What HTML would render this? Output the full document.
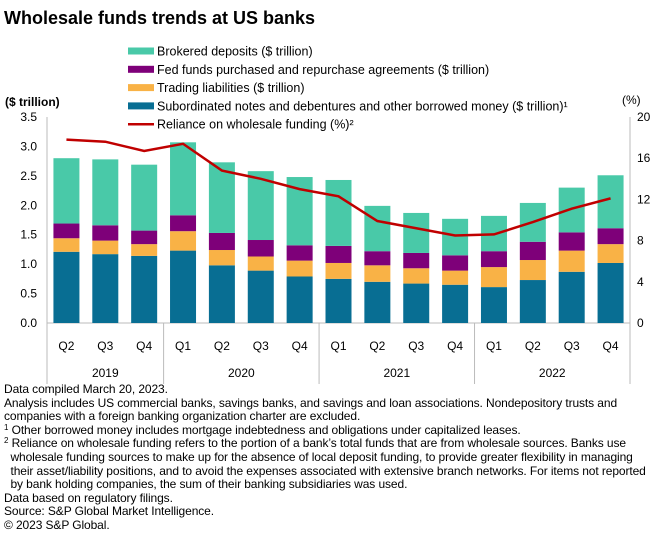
<!DOCTYPE html>
<html><head><meta charset="utf-8"><style>
body{margin:0;background:#fff;font-family:"Liberation Sans",sans-serif;color:#000}
#wrap{position:relative;width:660px;height:540px;overflow:hidden}
.notes{position:absolute;left:4px;top:383px;font-size:12px;line-height:13.6px;letter-spacing:-0.1px;white-space:nowrap}
.notes div{height:13.6px}
.sp{font-size:8px;position:relative;top:-4px}
</style></head><body>
<div id="wrap">
<svg id="chart" width="660" height="385" style="position:absolute;left:0;top:0" font-family="Liberation Sans, sans-serif">
<text x="4" y="24" font-size="18" font-weight="bold">Wholesale funds trends at US banks</text>
<g id="legend"></g>
<text x="5" y="106" font-size="12" font-weight="bold">($ trillion)</text>
<text x="622" y="104" font-size="12">(%)</text>
<g id="plot"></g>
</svg>
<div class="notes">
<div>Data compiled March 20, 2023.</div>
<div>Analysis includes US commercial banks, savings banks, and savings and loan associations. Nondepository trusts and</div>
<div>companies with a foreign banking organization charter are excluded.</div>
<div><span class="sp">1</span> Other borrowed money includes mortgage indebtedness and obligations under capitalized leases.</div>
<div><span class="sp">2</span> Reliance on wholesale funding refers to the portion of a bank’s total funds that are from wholesale sources. Banks use</div>
<div>&nbsp;&nbsp;wholesale funding sources to make up for the absence of local deposit funding, to provide greater flexibility in managing</div>
<div>&nbsp;&nbsp;their asset/liability positions, and to avoid the expenses associated with extensive branch networks. For items not reported</div>
<div>&nbsp;&nbsp;by bank holding companies, the sum of their banking subsidiaries was used.</div>
<div>Data based on regulatory filings.</div>
<div>Source: S&amp;P Global Market Intelligence.</div>
<div>© 2023 S&amp;P Global.</div>
</div>
</div>
<script>
const quarters=["Q2","Q3","Q4","Q1","Q2","Q3","Q4","Q1","Q2","Q3","Q4","Q1","Q2","Q3","Q4"];
const years=["2019","2020","2021","2022"];
const yearCounts=[3,4,4,4];
const subordinated=[1.21,1.17,1.14,1.23,0.98,0.89,0.79,0.75,0.70,0.67,0.65,0.61,0.73,0.87,1.02];
const trading=[0.23,0.23,0.20,0.33,0.26,0.24,0.27,0.27,0.28,0.26,0.24,0.34,0.34,0.36,0.32];
const fedFunds=[0.25,0.26,0.23,0.27,0.29,0.28,0.26,0.29,0.24,0.26,0.26,0.27,0.31,0.31,0.27];
const brokered=[1.11,1.12,1.12,1.24,1.20,1.17,1.16,1.12,0.77,0.68,0.62,0.60,0.66,0.76,0.90];
const reliance=[17.8,17.6,16.7,17.4,14.8,14.0,13.0,12.3,9.9,9.2,8.5,8.6,9.8,11.1,12.1];
const leftTicks=["0.0","0.5","1.0","1.5","2.0","2.5","3.0","3.5"];
const rightTicks=["0","4","8","12","16","20"];
const legendLabels=["Brokered deposits ($ trillion)","Fed funds purchased and repurchase agreements ($ trillion)","Trading liabilities ($ trillion)","Subordinated notes and debentures and other borrowed money ($ trillion)¹","Reliance on wholesale funding (%)²"];
const colors={sub:"#086e93",trade:"#f9b246",fed:"#7e0079",brok:"#49c9a8",line:"#c00000"};

const NS="http://www.w3.org/2000/svg";
const X0=47,X1=630,Y0=323,Y1=117;
const step=(X1-X0)/quarters.length;
const xc=i=>X0+step*(i+0.5);
const yL=v=>Y0-(v/3.5)*(Y0-Y1);
const yR=v=>Y0-(v/20)*(Y0-Y1);
const plot=document.getElementById('plot');
function mk(tag,attrs,parent){const e=document.createElementNS(NS,tag);for(const k in attrs)e.setAttribute(k,attrs[k]);(parent||plot).appendChild(e);return e;}

let a=mk('line',{x1:X0,y1:Y1,x2:X0,y2:Y0+61,stroke:'#bbb'});


a=mk('line',{x1:X1,y1:Y1,x2:X1,y2:Y0+61,stroke:'#bbb'});


a=mk('line',{x1:X0,y1:Y0,x2:X1,y2:Y0,stroke:'#bbb'});


leftTicks.forEach(t=>{const e=mk('text',{x:37,y:yL(+t)+4,'font-size':12,'text-anchor':'end'});e.textContent=t;

});
rightTicks.forEach(t=>{const e=mk('text',{x:637,y:yR(+t)+4,'font-size':12});e.textContent=t;

});

quarters.forEach((q,i)=>{
 const segs=[[subordinated[i],colors.sub,'bar-subordinated'],[trading[i],colors.trade,'bar-trading'],[fedFunds[i],colors.fed,'bar-fed-funds'],[brokered[i],colors.brok,'bar-brokered']];
 let base=0;const w=26;
 segs.forEach(s=>{const r=mk('rect',{x:xc(i)-w/2,y:yL(base+s[0]),width:w,height:yL(base)-yL(base+s[0]),fill:s[1]});
 
 
 base+=s[0];});
 const t=mk('text',{x:xc(i),y:350,'font-size':12,'text-anchor':'middle'});t.textContent=q;
 
 
});
let idx=0;
years.forEach((y,k)=>{
 const start=idx,end=idx+yearCounts[k];
 if(k>0){const d=mk('line',{x1:X0+step*start,y1:Y0,x2:X0+step*start,y2:Y0+61,stroke:'#bbb'});
 
 }
 const t=mk('text',{x:X0+step*(start+end)/2,y:377,'font-size':12,'text-anchor':'middle'});t.textContent=y;
 
 
 idx=end;
});
const pl=mk('polyline',{points:reliance.map((v,i)=>xc(i)+','+yR(v)).join(' '),fill:'none',stroke:colors.line,'stroke-width':2.5});



const lg=document.getElementById('legend');
const lcols=[colors.brok,colors.fed,colors.trade,colors.sub,colors.line];
legendLabels.forEach((l,i)=>{
 const y=51+i*18.3;
 const g=mk('g',{},lg);
 
 
 if(i<4)mk('rect',{x:128,y:y-3.5,width:26,height:7,fill:lcols[i]},g);
 else mk('line',{x1:128,y1:y,x2:154,y2:y,stroke:lcols[i],'stroke-width':2.5},g);
 const t=mk('text',{x:157,y:y+4.5,'font-size':12.5},g);t.textContent=l;
});
</script>
</body></html>
